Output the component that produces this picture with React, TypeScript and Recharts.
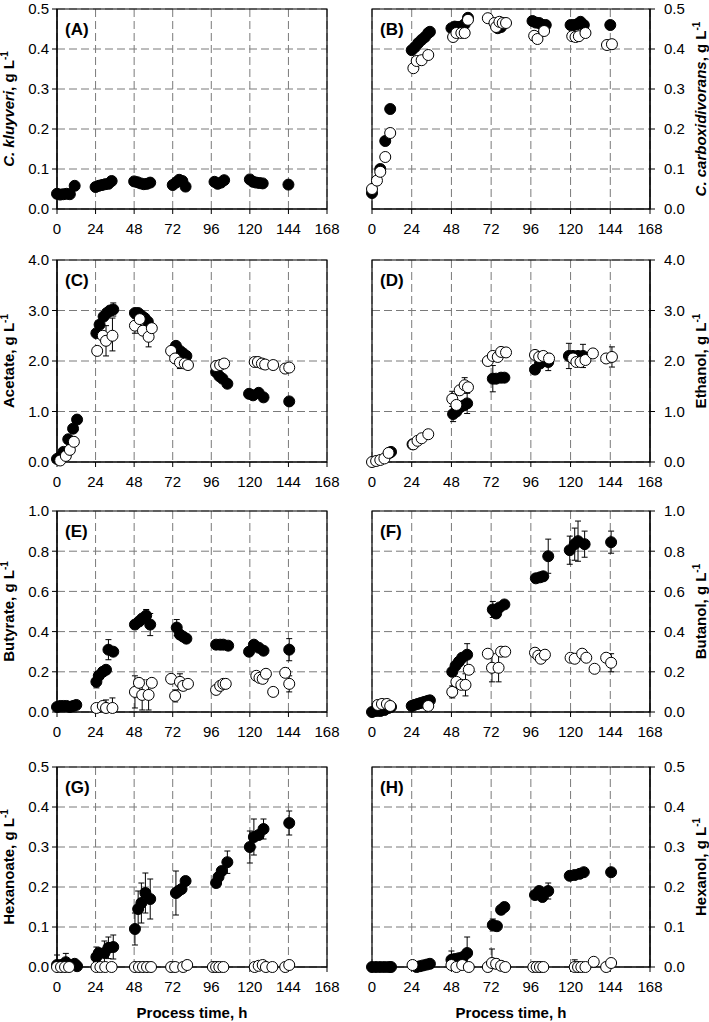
import React from "react";
import { ScatterChart, Scatter, XAxis, YAxis, CartesianGrid, ErrorBar, ReferenceArea, Label } from "recharts";

// rows are [time h, value, error] or [time h, value, errDown, errUp]
type Row = number[];

const hours = [0, 24, 48, 72, 96, 120, 144, 168];
const ticksHalf = [0, 0.1, 0.2, 0.3, 0.4, 0.5];
const ticksFour = [0, 1, 2, 3, 4];
const ticksOne = [0, 0.2, 0.4, 0.6, 0.8, 1.0];

const kluyveriFilled: Row[] = [
  [0, 0.038], [2, 0.036], [4, 0.037], [6, 0.038], [8, 0.037], [11, 0.058],
  [24, 0.055], [26, 0.058], [28, 0.06], [30, 0.062], [32, 0.063], [34, 0.07],
  [48, 0.069], [50, 0.067], [52, 0.064], [54, 0.062], [56, 0.063], [58, 0.066],
  [72, 0.06], [74, 0.066], [76, 0.073], [78, 0.07], [80, 0.056],
  [98, 0.068], [100, 0.063], [102, 0.066], [104, 0.072],
  [120, 0.074], [122, 0.068], [124, 0.066], [126, 0.065], [128, 0.064],
  [144, 0.061],
];

const carboxFilled: Row[] = [
  [0, 0.04], [5, 0.1], [8, 0.17], [11, 0.25],
  [24, 0.397], [26, 0.405], [28, 0.415], [30, 0.423], [32, 0.43], [34, 0.44], [35, 0.443],
  [48, 0.452], [50, 0.456], [52, 0.455], [54, 0.456], [56, 0.462], [58, 0.478],
  [76, 0.452], [78, 0.455],
  [97, 0.47], [99, 0.466], [101, 0.465], [103, 0.46], [105, 0.46],
  [120, 0.46], [122, 0.46], [124, 0.462], [126, 0.468], [128, 0.46],
  [144, 0.46],
];
const carboxOpen: Row[] = [
  [0, 0.05], [3, 0.071], [5, 0.093], [8, 0.13], [11, 0.19],
  [25, 0.352], [27, 0.37], [30, 0.372], [34, 0.385],
  [49, 0.43], [51, 0.44], [54, 0.44], [56, 0.44], [58, 0.473],
  [70, 0.477], [74, 0.465], [75, 0.455], [77, 0.468], [79, 0.465], [81, 0.465],
  [98, 0.433], [100, 0.425], [104, 0.445],
  [121, 0.432], [123, 0.43], [125, 0.432], [129, 0.44],
  [142, 0.41], [145, 0.412],
];

const acetateFilled: Row[] = [
  [0, 0.06], [2, 0.1], [4, 0.2], [7, 0.45], [10, 0.66], [12.5, 0.84],
  [24.5, 2.55], [26.5, 2.72], [29, 2.88], [31, 2.95], [33, 3.0], [35, 3.02, 0.13],
  [48.5, 2.95], [50.5, 2.95], [52.5, 2.9], [54.5, 2.85], [56.5, 2.78],
  [74, 2.3], [76.5, 2.2], [78.5, 2.15], [80.5, 2.1],
  [99, 1.78], [101, 1.7], [103, 1.65], [106, 1.55],
  [119.5, 1.35], [122, 1.32], [125.5, 1.37], [128.5, 1.28],
  [144.5, 1.2],
];
const acetateOpen: Row[] = [
  [2, 0.03], [5.5, 0.12], [8, 0.24], [10.5, 0.4],
  [25, 2.2], [28.5, 2.5], [30.5, 2.4, 0.3], [34.5, 2.5, 0.3, 0.35],
  [48.5, 2.7, 0.15], [51.5, 2.83], [53.5, 2.6], [57, 2.48, 0.2], [59, 2.65],
  [71, 2.2], [73.5, 2.05], [76.5, 1.97, 0.12], [79.5, 1.95], [81.5, 1.92],
  [99, 1.9], [101.5, 1.92], [104, 1.95],
  [123, 1.98], [125, 1.98], [127.5, 1.95], [129.5, 1.93], [134.5, 1.92],
  [142, 1.85], [144.5, 1.87],
];

const ethanolFilled: Row[] = [
  [10.5, 0.18], [11.5, 0.2],
  [24.5, 0.35],
  [49, 0.95, 0.15], [51, 1.0], [53, 1.08], [55.5, 1.12], [57.5, 1.16, 0.2],
  [73, 1.65, 0.26], [75, 1.65], [78, 1.67], [80, 1.67],
  [98.5, 1.83], [101.5, 1.95], [106.5, 1.98, 0.17],
  [119, 2.1, 0.25], [121.5, 2.1], [124.5, 2.1], [127.5, 2.1, 0.23],
];
const ethanolOpen: Row[] = [
  [0, 0.0], [2.5, 0.02], [5, 0.04], [7.5, 0.07], [10, 0.18],
  [25, 0.35], [27.5, 0.42], [30, 0.47], [34, 0.55],
  [48.5, 1.25, 0.15], [51, 1.13], [53, 1.42], [56, 1.52, 0.15], [58, 1.48],
  [70, 2.0], [73, 2.1], [76, 2.08], [78, 2.18], [81, 2.17],
  [98.5, 2.12], [101, 2.08], [103.5, 2.1], [107, 2.05],
  [121.5, 2.05], [123.5, 1.98], [126, 1.98], [129, 2.02], [133.5, 2.15],
  [141.5, 2.05], [145, 2.08, 0.2],
];

const butyrateFilled: Row[] = [
  [0, 0.025], [2, 0.03], [4, 0.03], [6, 0.03], [8, 0.025], [10, 0.03], [12, 0.035],
  [24.5, 0.15, 0.03], [26, 0.18], [28.5, 0.2], [30.5, 0.21], [32, 0.31, 0.05], [35, 0.3],
  [48.5, 0.435], [51, 0.45], [53, 0.465], [55.5, 0.48, 0.03], [58, 0.435, 0.055],
  [74.5, 0.42, 0.04], [76.5, 0.385], [78.5, 0.375], [80.5, 0.365],
  [99, 0.335], [101.5, 0.335], [103.5, 0.335], [106.5, 0.33],
  [119.5, 0.3], [122.5, 0.335], [125.5, 0.32], [128.5, 0.305],
  [144.5, 0.31, 0.055],
];
const butyrateOpen: Row[] = [
  [24.5, 0.02], [28.5, 0.03], [30.5, 0.02, 0.02, 0.04], [34.5, 0.02, 0.02, 0.05],
  [48.5, 0.1, 0.08], [51, 0.145], [53, 0.085, 0.075], [57, 0.085, 0.075], [59, 0.145],
  [71, 0.165], [73.5, 0.08, 0.03], [76.5, 0.15, 0.04], [78.5, 0.13], [81.5, 0.14],
  [99, 0.11], [101.5, 0.13], [103.5, 0.14], [105, 0.14],
  [124, 0.18], [126, 0.17], [128, 0.165], [130, 0.19], [134.5, 0.1],
  [142, 0.195], [144.5, 0.14, 0.04],
];

const butanolFilled: Row[] = [
  [0, 0], [2.5, 0.005], [5, 0.005], [7.5, 0.01], [10, 0.02], [11.5, 0.025],
  [24, 0.03], [25.5, 0.035], [27.5, 0.04], [29.5, 0.045], [31.5, 0.05], [33.5, 0.055], [35, 0.058],
  [48.5, 0.2], [50.5, 0.23], [52.5, 0.25], [54.5, 0.27], [57.5, 0.285, 0.055],
  [73, 0.51, 0.04], [75, 0.49], [77, 0.52], [80, 0.535],
  [99, 0.665], [101.5, 0.67], [103.5, 0.675], [106.5, 0.775, 0.085],
  [119.5, 0.805, 0.07], [122.5, 0.835, 0.08], [124.5, 0.85, 0.1], [128.5, 0.835, 0.065],
  [144.5, 0.845, 0.055],
];
const butanolOpen: Row[] = [
  [3.5, 0.035], [6, 0.04, 0.015], [9, 0.04], [11, 0.03],
  [34, 0.03],
  [48.5, 0.1, 0.03], [51, 0.15], [54, 0.135], [56.5, 0.135, 0.055], [58.5, 0.21],
  [70, 0.29], [72.5, 0.22, 0.07], [76.5, 0.22, 0.07], [78, 0.3], [80.5, 0.3],
  [98.5, 0.295], [100.5, 0.28], [102, 0.265], [104.5, 0.285],
  [120, 0.27], [122.5, 0.265], [127, 0.29], [129.5, 0.27], [134.5, 0.215],
  [141.5, 0.27], [144.5, 0.245, 0.045],
];

const hexanoateFilled: Row[] = [
  [0, 0.005, 0.005, 0.025], [2.5, 0.005], [5.5, 0.012, 0.012, 0.022], [11, 0.008], [12.5, 0.002],
  [24.5, 0.025, 0.025], [26, 0.035], [29.5, 0.035, 0.03], [32, 0.048, 0.027], [35, 0.05, 0.03],
  [48.5, 0.095, 0.04], [50.5, 0.145, 0.045], [52.5, 0.16, 0.05], [55, 0.185, 0.05], [58, 0.17, 0.05],
  [74, 0.185, 0.055], [75.5, 0.19], [77.5, 0.195], [80, 0.215],
  [99, 0.21], [100.5, 0.225], [102.5, 0.24], [106, 0.262, 0.028],
  [120, 0.3, 0.04], [122.5, 0.325, 0.045], [125.5, 0.33], [128.5, 0.345, 0.025],
  [144.5, 0.36, 0.03],
];
const hexanoateOpen: Row[] = [
  [0, 0], [2.5, 0], [5, 0], [7.5, 0],
  [24.5, 0], [27, 0], [30, 0], [34, 0],
  [48.5, 0], [51, 0], [53.5, 0], [56, 0], [58.5, 0],
  [71, 0], [73.5, 0], [78.5, 0], [81, 0.005],
  [97, 0], [99, 0], [101, 0], [103.5, 0],
  [123, 0], [125.5, 0.003], [128, 0.005], [130, 0], [134, 0],
  [142, 0], [144.5, 0.005],
];

const hexanolFilled: Row[] = [
  [0, 0], [2.5, 0], [5, 0], [7.5, 0], [10, 0], [11.5, 0],
  [27, 0], [29, 0.002], [31, 0.004], [33, 0.006], [35, 0.008],
  [48, 0.018], [50, 0.02], [52.5, 0.022], [55, 0.025], [57.5, 0.035, 0.035, 0.04],
  [73, 0.105, 0.015], [75.5, 0.102], [78, 0.143], [80, 0.15],
  [98.5, 0.18], [101, 0.19], [103, 0.175], [106.5, 0.19, 0.02],
  [119.5, 0.228], [122.5, 0.23], [125.5, 0.233], [128, 0.237],
  [144.5, 0.237],
];
const hexanolOpen: Row[] = [
  [24.5, 0.005],
  [48, 0.005, 0.005, 0.035], [51, 0], [54.5, 0.005], [58.5, 0],
  [70, 0], [72.5, 0.01, 0.01, 0.035], [75, 0.008, 0.008, 0.012], [78, 0.003], [80.5, 0],
  [97.5, 0], [99.5, 0], [101.5, 0], [103.5, 0],
  [122.5, 0, 0, 0.018], [124.5, 0], [126.5, 0], [129, 0], [134, 0.013],
  [141.5, 0], [144.5, 0.01],
];

const toPoints = (rows: Row[]) =>
  rows.map(([x, y, lo, hi]) => ({
    x,
    y,
    e: lo === undefined ? undefined : hi === undefined ? lo : [lo, hi],
  }));

const dot = (fill: string) => (props: any) =>
  <circle cx={props.cx} cy={props.cy} r={5.5} fill={fill} stroke="#000" strokeWidth={1} />;

const sup = (
  <tspan dy={-6} fontSize={10}>-1</tspan>
);

interface PanelProps {
  letter: string;
  side: "left" | "right";
  plotTop: number;
  plotH: number;
  yTicks: number[];
  filled: Row[];
  open?: Row[];
  title: React.ReactNode;
  bottom?: boolean;
}

function Panel({ letter, side, plotTop, plotH, yTicks, filled, open, title, bottom }: PanelProps) {
  const left = side === "left";
  const width = left ? 360 : 359;
  const axisW = left ? 57 : 59;
  const pad = Math.min(plotTop, 15);
  const extra = bottom ? 20 : 0;
  const margin = left
    ? { top: pad, right: 33, bottom: extra, left: 0 }
    : { top: pad, right: 0, bottom: extra, left: 22 };
  const height = pad + plotH + 40 + extra;
  const plotX = left ? 57 : 22;
  const plotW = width - axisW - (left ? 33 : 22);
  const yMax = yTicks[yTicks.length - 1];
  const midY = pad + plotH / 2;
  const titleX = left ? 14 : width - 3;
  const tick = { fill: "#000", fontSize: 15 };

  return (
    <div style={{ position: "absolute", left: left ? 0 : 350, top: plotTop - pad }}>
      <ScatterChart width={width} height={height} margin={margin}>
        <CartesianGrid stroke="#7a7a7a" strokeDasharray="8 4" />
        <XAxis
          type="number"
          dataKey="x"
          domain={[0, 168]}
          ticks={hours}
          interval={0}
          tick={tick}
          tickSize={5}
          tickMargin={9}
          height={40}
          axisLine={{ stroke: "#000", strokeWidth: 1.2 }}
          tickLine={{ stroke: "#000" }}
        >
          {bottom && (
            <Label
              content={() => (
                <text x={plotX + plotW / 2} y={pad + plotH + 51} textAnchor="middle" fontSize={15} fontWeight="bold" fill="#000">
                  Process time, h
                </text>
              )}
            />
          )}
        </XAxis>
        <YAxis
          type="number"
          dataKey="y"
          domain={[0, yMax]}
          ticks={yTicks}
          interval={0}
          orientation={side}
          width={axisW}
          tick={tick}
          tickSize={5}
          tickMargin={left ? 3 : 9}
          tickFormatter={(v: number) => v.toFixed(1)}
          axisLine={{ stroke: "#000", strokeWidth: 1.2 }}
          tickLine={{ stroke: "#000" }}
        >
          <Label
            content={() => (
              <text
                x={titleX}
                y={midY}
                transform={`rotate(-90, ${titleX}, ${midY})`}
                textAnchor="middle"
                fontSize={15}
                fontWeight="bold"
                fill="#000"
              >
                {title}
              </text>
            )}
          />
        </YAxis>
        <ReferenceArea x1={0} x2={168} y1={0} y2={yMax} fill="none" stroke="#000" strokeWidth={1.2} ifOverflow="visible">
          <Label
            content={() => (
              <text x={plotX + 8} y={pad + 26} fontSize={17} fontWeight="bold" fill="#000">
                {letter}
              </text>
            )}
          />
        </ReferenceArea>
        <Scatter data={toPoints(filled)} isAnimationActive={false} shape={dot("#000")}>
          <ErrorBar dataKey="e" direction="y" width={3} stroke="#000" strokeWidth={1} />
        </Scatter>
        {open && (
          <Scatter data={toPoints(open)} isAnimationActive={false} shape={dot("#fff")}>
            <ErrorBar dataKey="e" direction="y" width={3} stroke="#000" strokeWidth={1} />
          </Scatter>
        )}
      </ScatterChart>
    </div>
  );
}

export default function App() {
  return (
    <div
      style={{
        position: "absolute",
        left: 0,
        top: 0,
        width: 709,
        height: 1022,
        overflow: "hidden",
        background: "#fff",
        fontFamily: "'Liberation Sans', Arial, sans-serif",
      }}
    >
      <Panel letter="(A)" side="left" plotTop={9} plotH={200} yTicks={ticksHalf} filled={kluyveriFilled}
        title={<><tspan fontStyle="italic">C. kluyveri</tspan>, g L{sup}</>} />
      <Panel letter="(B)" side="right" plotTop={9} plotH={200} yTicks={ticksHalf} filled={carboxFilled} open={carboxOpen}
        title={<><tspan fontStyle="italic">C. carboxidivorans</tspan>, g L{sup}</>} />
      <Panel letter="(C)" side="left" plotTop={260} plotH={202} yTicks={ticksFour} filled={acetateFilled} open={acetateOpen}
        title={<>Acetate, g L{sup}</>} />
      <Panel letter="(D)" side="right" plotTop={260} plotH={202} yTicks={ticksFour} filled={ethanolFilled} open={ethanolOpen}
        title={<>Ethanol, g L{sup}</>} />
      <Panel letter="(E)" side="left" plotTop={511} plotH={201} yTicks={ticksOne} filled={butyrateFilled} open={butyrateOpen}
        title={<>Butyrate, g L{sup}</>} />
      <Panel letter="(F)" side="right" plotTop={511} plotH={201} yTicks={ticksOne} filled={butanolFilled} open={butanolOpen}
        title={<>Butanol, g L{sup}</>} />
      <Panel letter="(G)" side="left" plotTop={767} plotH={200} yTicks={ticksHalf} filled={hexanoateFilled} open={hexanoateOpen}
        title={<>Hexanoate, g L{sup}</>} bottom />
      <Panel letter="(H)" side="right" plotTop={767} plotH={200} yTicks={ticksHalf} filled={hexanolFilled} open={hexanolOpen}
        title={<>Hexanol, g L{sup}</>} bottom />
    </div>
  );
}
